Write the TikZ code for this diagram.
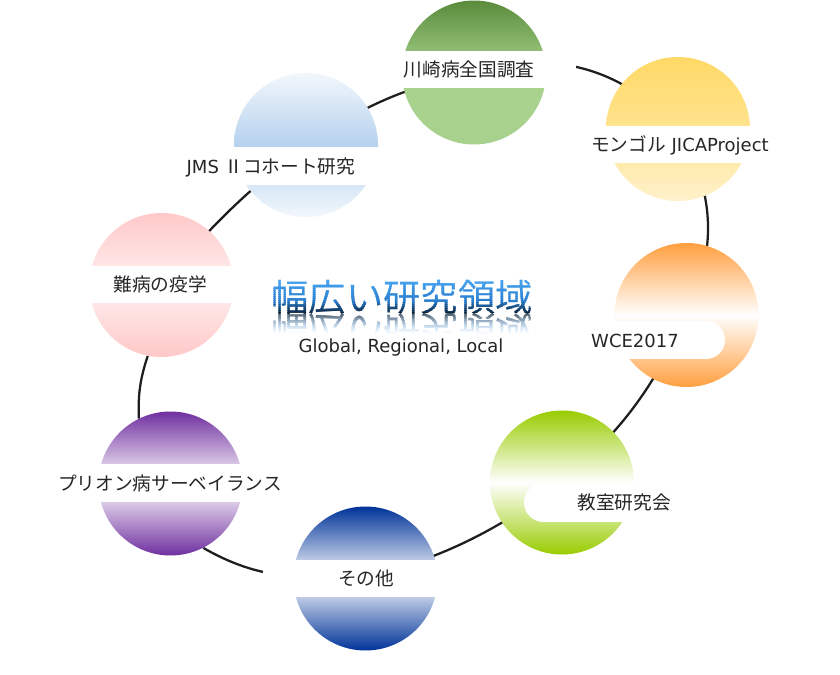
\documentclass[tikz,border=0pt]{standalone}
\usepackage{fontspec}
\setmainfont{DejaVu Sans}
\newfontfamily\jp{Noto Sans CJK JP}
\pgfdeclarelayer{back}
\pgfdeclarelayer{bg}
\pgfsetlayers{back,bg,main}
\definecolor{txtc}{HTML}{262626}
\definecolor{linec}{HTML}{1E1E1E}
\definecolor{g1t}{HTML}{5A8B3C}\definecolor{g1m}{HTML}{A7D38C}\definecolor{g1b}{HTML}{A9D18E}
\definecolor{g2t}{HTML}{FFD966}\definecolor{g2m}{HTML}{FFE490}\definecolor{g2b}{HTML}{FFF2CC}
\definecolor{g3t}{HTML}{FF9F3F}
\definecolor{g4t}{HTML}{99CC00}
\definecolor{g5t}{HTML}{003399}
\definecolor{g6t}{HTML}{7030A0}
\definecolor{g7t}{HTML}{FFC8C8}\definecolor{g7m}{HTML}{FFF0F0}
\definecolor{g8t}{HTML}{F2F7FC}\definecolor{g8m}{HTML}{B6D2EE}
\definecolor{ttop}{HTML}{4AA6F2}
\definecolor{tmid}{HTML}{2A7FD0}
\definecolor{tdark}{HTML}{081828}
\newcommand\J[1]{{\jp\fontsize{14}{16}\selectfont #1}}
\newcommand\titletext{幅広い研究領域}
\begin{document}
\begin{tikzpicture}[x=0.75pt,y=-0.75pt,
  ball/.style={circle, minimum size=108pt, inner sep=0pt, draw=none},
  lab/.style={font=\fontsize{13.5}{16}\selectfont, text=txtc, text height=12pt, text depth=1.5pt, inner xsep=8pt, inner ysep=0pt, minimum height=28pt},
  band/.style={lab, fill=white, minimum width=160.5pt},
  conn/.style={draw=linec, line width=1.7pt},
  titlef/.style={font=\jp\fontsize{28}{30}\selectfont, inner sep=0pt}]

\begin{pgfonlayer}{back}
\fill[white] (0,0) rectangle (840,675);
\end{pgfonlayer}
\useasboundingbox (0,0) rectangle (840,675);

% circles
\node[ball, top color=g1t, bottom color=g1b, middle color=g1m] (c1) at (474,72.5) {};
\node[ball, top color=g2t, bottom color=g2b, middle color=g2m] (c2) at (678,129) {};
\node[ball, top color=g3t, bottom color=g3t, middle color=white] (c3) at (686.5,315) {};
\node[ball, top color=g4t, bottom color=g4t, middle color=white] (c4) at (562,482.5) {};
\node[ball, top color=g5t, bottom color=g5t, middle color=white] (c5) at (365.5,578.5) {};
\node[ball, top color=g6t, bottom color=g6t, middle color=white] (c6) at (170.5,483.5) {};
\node[ball, top color=g7t, bottom color=g7t, middle color=g7m] (c7) at (161.5,285) {};
\node[ball, top color=g8t, bottom color=g8t, middle color=g8m] (c8) at (306,145) {};

% connectors
\begin{pgfonlayer}{bg}
\draw[conn] (c1.center) to[bend left=32] (c2.center);
\draw[conn] (c2.center) to[bend left=28] (c3.center);
\draw[conn] (c3.center) to[bend left=12] (c4.center);
\draw[conn] (c4.center) to[bend left=10] (c5.center);
\draw[conn] (c5.center) to[out=180, in=-30] (c6.-63);
\draw[conn] (c6.116) to[bend left=10] (c7.-101);
\draw[conn] (c7.center) to[bend left=6] (c8.center);
\draw[conn] (c8.center) to[bend left=11] (c1.center);
\end{pgfonlayer}

% rounded bands
\fill[white] (565,321) rectangle (706,359);
\fill[white] (706,340) circle (19);
\fill[white] (543.5,483) rectangle (700,522);
\fill[white] (543.5,502.5) circle (19.5);

% labels
\node[band] (t1) at (469,69.5) {\J{川崎病全国調査}};
\node[band] (t2) at (680,144.5) {\J{モンゴル} JICAProject};
\node[lab] (t3) at (635,340) {WCE2017};
\node[lab] (t4) at (624,502.5) {\J{教室研究会}};
\node[band, minimum width=154.5pt] (t5) at (366,578.5) {\J{その他}};
\node[band] (t6) at (170,483) {\J{プリオン病サーベイランス}};
\node[band] (t7) at (160,284.5) {\J{難病の疫学}};
\node[band, minimum width=168pt] (t8) at (271,166) {JMS \J{Ⅱコホート研究}};

% title with gradient
\foreach \i in {0,...,18} {
  \pgfmathsetmacro\ya{278+2*\i}
  \pgfmathsetmacro\yb{\ya+2.2}
  \pgfmathtruncatemacro\pA{min(\i/18/0.6,1)*100}
  \pgfmathtruncatemacro\pB{max((\i/18-0.6)/0.4,0)*100}
  \colorlet{gA}{tmid!\pA!ttop}
  \colorlet{gB}{tdark!\pB!gA}
  \begin{scope}
    \clip (260,\ya) rectangle (545,\yb);
    \node[titlef, text=gB, anchor=base] (ttl\i) at (402,311.5) {\titletext};
  \end{scope}
}
% reflection
\foreach \i in {0,...,12} {
  \pgfmathsetmacro\sa{\i*1.5}
  \pgfmathsetmacro\ya{314+\sa}
  \pgfmathsetmacro\yb{\ya+1.7}
  \pgfmathsetmacro\tv{min(max((314-\sa-0.75-278)/36,0),1)}
  \pgfmathtruncatemacro\pA{min(\tv/0.6,1)*100}
  \pgfmathtruncatemacro\pB{max((\tv-0.6)/0.4,0)*100}
  \pgfmathtruncatemacro\q{70*(1-\sa/19)}
  \colorlet{gA}{tmid!\pA!ttop}
  \colorlet{gB}{tdark!\pB!gA}
  \colorlet{gR}{gB!\q!white}
  \begin{scope}
    \clip (260,\ya) rectangle (545,\yb);
    \begin{scope}[shift={(402,314)}, yscale=-1]
      \node[titlef, transform shape, text=gR, anchor=base] (refl\i) at (0,-2.5) {\titletext};
    \end{scope}
  \end{scope}
}
\node[font=\fontsize{13.5}{16}\selectfont, text=txtc, anchor=base, inner sep=0pt] (sub) at (401,352) {Global, Regional, Local};
\end{tikzpicture}
\end{document}
